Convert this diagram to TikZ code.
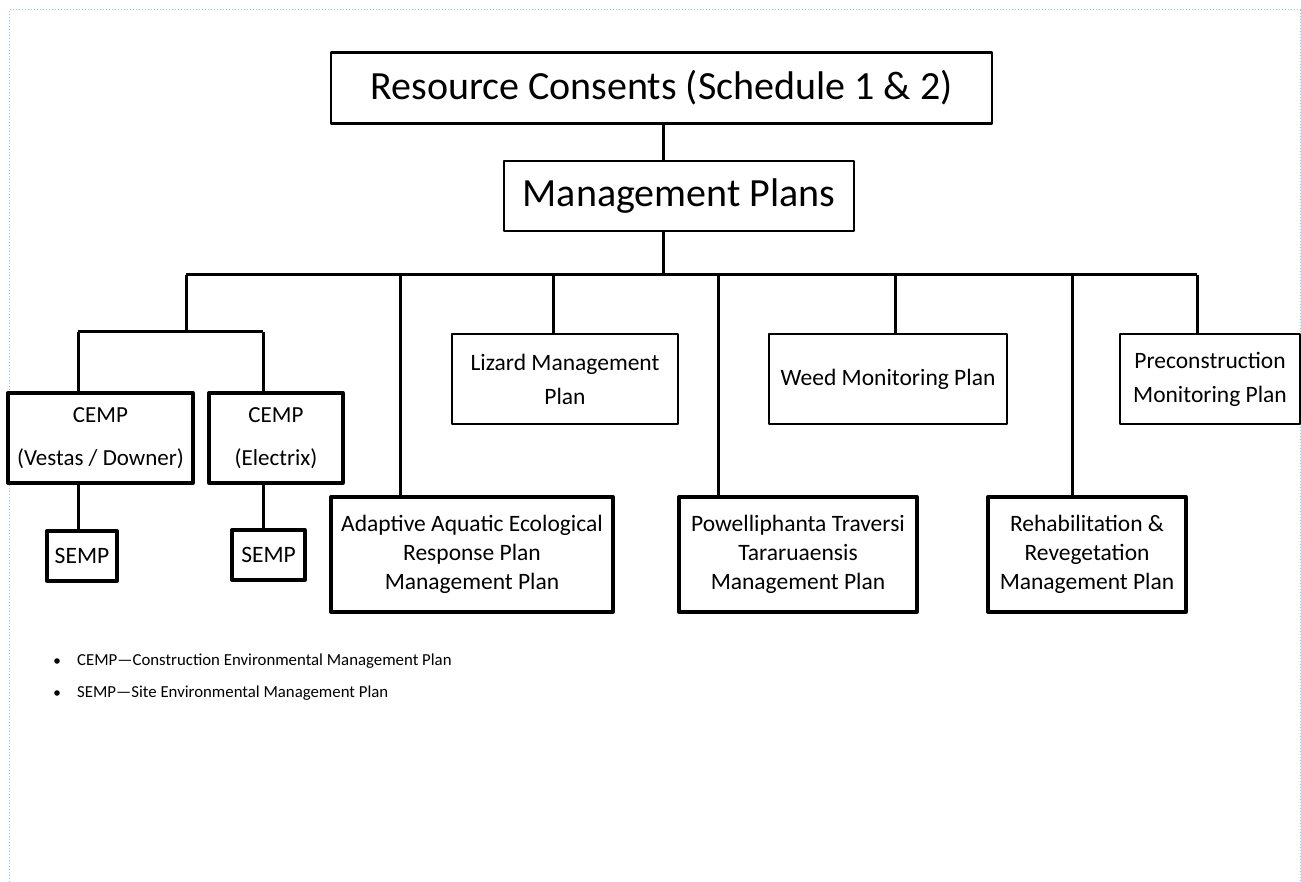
\documentclass[tikz,border=0pt]{standalone}
\usepackage{fontspec}
\setmainfont{Carlito}
\definecolor{frameblue}{RGB}{150,195,240}
\tikzset{box/.style={draw, line width=3.3pt, align=center, inner sep=0pt, font=\fontsize{23.5}{29}\selectfont},
  wire/.style={line width=3pt}}
\begin{document}
\begin{tikzpicture}[x=1pt, y=-1pt, line join=round]
\useasboundingbox (0,0) rectangle (1301,882);
\draw[dotted, frameblue, line width=1pt] (9,882)--(9,10)--(1300,10)--(1300,882);
\node[box, line width=2.6pt, minimum width=661, minimum height=71, font=\fontsize{40}{44}\selectfont] (rc) at (661.5,88) {Resource Consents (Schedule 1 \& 2)};
\node[box, line width=2.6pt, minimum width=350, minimum height=70, font=\fontsize{40}{44}\selectfont] (mp) at (679,196) {Management Plans};
\node[box, minimum width=185, minimum height=90, font=\fontsize{23}{43}\selectfont] (c1) at (100.5,438) {CEMP\\(Vestas / Downer)};
\node[box, minimum width=134, minimum height=90, font=\fontsize{23}{43}\selectfont] (c2) at (276,438) {CEMP\\(Electrix)};
\node[box, minimum width=70, minimum height=50] (s1) at (82,556) {SEMP};
\node[box, minimum width=73, minimum height=50] (s2) at (268.5,555) {SEMP};
\node[box, minimum width=282, minimum height=115] (aa) at (472,554.5) {Adaptive Aquatic Ecological\\Response Plan\\Management Plan};
\node[box, line width=2.6pt, minimum width=226, minimum height=90, font=\fontsize{23.5}{34}\selectfont] (lz) at (565,379) {Lizard Management\\Plan};
\node[box, minimum width=238, minimum height=115] (pt) at (798,554.5) {Powelliphanta Traversi\\Tararuaensis\\Management Plan};
\node[box, line width=2.8pt, minimum width=238, minimum height=90] (wd) at (888,379) {Weed Monitoring Plan};
\node[box, minimum width=198, minimum height=115] (rh) at (1087,554.5) {Rehabilitation \&\\Revegetation\\Management Plan};
\node[box, line width=2.6pt, minimum width=180, minimum height=90, font=\fontsize{23.5}{34}\selectfont] (pc) at (1210,379) {Preconstruction\\Monitoring Plan};
\path (663,275) coordinate (bus) (186,275) coordinate (bw) (1197,275) coordinate (be) (186,332) coordinate (cm) (78,332) coordinate (cl) (263,332) coordinate (cr);
\draw[wire] (rc.south -| bus) -- (mp.north -| bus) (mp.south -| bus) -- (bus) (bw) -- (be) (bw) -- (cm) (cl) -- (cr) (cl) -- (cl |- c1.north) (cr) -- (cr |- c2.north) (cl |- c1.south) -- (cl |- s1.north) (cr |- c2.south) -- (cr |- s2.north);
\foreach \n/\x in {aa/400, lz/553, pt/718, wd/895, rh/1072, pc/1197} {\path (\x,275) coordinate (d\n); \draw[wire] (d\n) -- (d\n |- \n.north);}
\foreach \k/\y/\t in {a/661/{CEMP---Construction Environmental Management Plan}, b/693/{SEMP---Site Environmental Management Plan}} {\fill (57,\y) coordinate (b\k) circle (2.8); \node[anchor=west, inner sep=0pt, font=\fontsize{16.8}{18}\selectfont] (l\k) at (77,\y) {\t};}
\end{tikzpicture}
\end{document}
